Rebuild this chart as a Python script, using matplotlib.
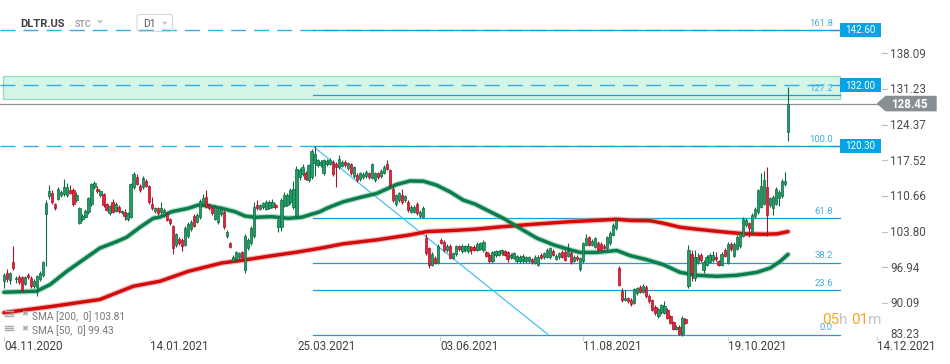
import matplotlib
matplotlib.use('Agg')
import matplotlib.pyplot as plt
import matplotlib.transforms as mtrans
from matplotlib.patches import Rectangle, Polygon, FancyBboxPatch
from matplotlib.lines import Line2D
import numpy as np

plt.rcParams['font.family'] = ['Roboto', 'DejaVu Sans']

# ---------------- data ----------------
opens = [
    94.4, 95.9, 94.5, 97.9, 94.6, 95.0, 95.0, 93.8, 95.4, 94.8,
    93.4, 93.2, 94.6, 95.4, 107.2, 110.6, 111.3, 109.1, 110.1, 110.8,
    111.0, 110.9, 111.8, 111.8, 109.9, 105.4, 106.2, 106.7, 107.5, 109.1,
    112.3, 112.1, 110.8, 111.0, 109.1, 107.4, 109.6, 107.8, 108.6, 107.5,
    107.5, 106.2, 106.7, 112.3, 114.4, 112.5, 112.3, 113.5, 112.5, 109.1,
    107.7, 108.3, 107.5, 107.0, 107.2, 106.2, 104.8, 101.2, 102.4, 102.2,
    101.3, 102.9, 104.3, 106.9, 105.7, 106.6, 109.2, 110.4, 109.0, 108.3,
    106.3, 105.6, 107.2, 107.6, 102.9, 101.6, 98.2, 98.5, 98.9, 99.8,
    96.4, 100.6, 101.6, 102.9, 108.9, 108.2, 108.5, 108.2, 108.4, 108.6,
    109.0, 104.6, 104.6, 108.8, 109.0, 109.5, 108.5, 106.8, 114.3, 114.9,
    115.1, 113.7, 114.3, 117.0, 116.6, 116.6, 115.0, 116.8, 116.9, 117.2,
    116.8, 116.2, 116.5, 117.2, 116.0, 116.8, 114.5, 114.7, 113.9, 114.3,
    114.5, 115.0, 114.2, 113.7, 115.0, 114.5, 115.1, 116.9, 115.6, 112.1,
    109.1, 109.9, 110.8, 109.8, 109.5, 107.6, 107.6, 109.2, 106.8, 106.7,
    102.5, 100.6, 97.4, 98.8, 97.8, 102.2, 101.9, 100.2, 101.1, 98.8,
    99.5, 101.0, 100.0, 100.2, 100.0, 100.8, 100.9, 100.3, 100.5, 100.2,
    99.8, 99.4, 98.1, 99.3, 99.4, 99.6, 100.0, 99.8, 98.9, 98.8,
    98.1, 98.1, 98.1, 98.1, 98.1, 98.5, 97.8, 97.4, 99.4, 98.9,
    99.0, 98.9, 100.1, 98.6, 98.9, 99.9, 99.9, 99.2, 99.7, 98.2,
    99.0, 96.6, 98.1, 101.3, 102.7, 101.3, 100.9, 101.7, 101.5, 101.1,
    100.6, 101.6, 103.2, 104.5, 96.8, 92.3, 90.7, 91.0, 90.7, 90.1,
    92.0, 93.1, 92.2, 93.2, 91.5, 90.6, 89.3, 87.5, 88.3, 88.2,
    88.8, 87.5, 86.4, 85.1, 85.5, 84.2, 86.9, 93.3, 99.5, 94.8,
    97.8, 99.3, 96.5, 97.4, 98.0, 98.3, 99.0, 98.1, 97.4, 100.3,
    97.8, 101.5, 99.2, 100.5, 101.0, 103.0, 105.0, 105.4, 103.7, 106.8,
    107.5, 108.6, 109.2, 112.4, 108.9, 108.3, 109.2, 110.3, 110.6, 112.9,
    123.0,
]
closes = [
    95.5, 94.6, 95.8, 96.8, 94.9, 94.1, 92.6, 95.0, 95.0, 93.4,
    94.4, 95.2, 95.9, 97.9, 109.4, 111.6, 109.5, 108.4, 112.0, 111.5,
    112.3, 112.3, 111.3, 109.1, 110.8, 108.3, 106.8, 107.7, 110.2, 112.9,
    113.1, 111.6, 111.6, 108.9, 108.0, 108.7, 107.6, 109.1, 107.7, 107.7,
    106.9, 107.3, 112.9, 114.8, 113.0, 111.8, 114.2, 112.6, 109.5, 108.3,
    108.3, 107.4, 108.3, 107.9, 106.1, 105.4, 100.6, 103.3, 101.6, 101.1,
    104.5, 105.3, 105.7, 104.9, 107.1, 109.7, 110.2, 108.6, 108.3, 107.4,
    108.6, 108.0, 108.2, 104.7, 103.8, 100.9, 99.0, 99.8, 99.6, 98.6,
    102.9, 102.2, 104.5, 108.6, 108.3, 108.9, 109.3, 109.6, 109.6, 109.5,
    108.5, 106.1, 109.8, 110.9, 110.8, 111.8, 112.0, 115.9, 115.7, 116.3,
    114.0, 116.6, 119.4, 118.8, 117.5, 117.3, 117.5, 117.4, 117.6, 114.9,
    116.2, 117.8, 117.3, 116.6, 117.0, 115.0, 116.2, 113.7, 115.0, 114.9,
    115.3, 114.3, 116.8, 115.0, 114.3, 115.5, 116.3, 115.9, 112.7, 109.9,
    110.8, 111.2, 109.5, 110.6, 107.9, 108.6, 108.6, 107.3, 107.6, 108.4,
    99.7, 97.4, 99.5, 97.8, 101.1, 101.7, 100.2, 101.1, 98.8, 99.6,
    101.0, 100.4, 101.1, 101.0, 101.1, 100.3, 100.3, 101.5, 101.6, 101.9,
    99.2, 98.1, 99.8, 100.0, 100.0, 100.2, 99.4, 98.5, 99.4, 99.6,
    99.1, 99.0, 99.2, 98.9, 98.9, 97.9, 99.0, 99.0, 98.8, 99.6,
    100.3, 100.6, 99.4, 99.2, 99.6, 99.0, 98.4, 100.1, 97.9, 99.0,
    98.5, 98.7, 101.6, 102.5, 101.3, 102.0, 102.5, 100.3, 100.3, 100.7,
    102.7, 103.6, 105.1, 106.1, 93.6, 90.7, 91.0, 90.4, 89.8, 92.7,
    92.9, 92.2, 93.4, 91.4, 90.4, 88.8, 88.1, 88.9, 89.6, 89.5,
    87.2, 86.3, 85.1, 85.5, 84.2, 87.2, 86.3, 100.3, 95.9, 99.0,
    99.0, 98.3, 98.0, 99.0, 99.4, 99.4, 98.5, 97.4, 99.5, 99.2,
    101.5, 100.4, 101.5, 102.8, 103.5, 106.3, 106.1, 104.5, 107.0, 108.2,
    111.8, 112.5, 113.7, 107.0, 110.2, 110.5, 112.0, 111.5, 113.6, 113.6,
    128.45,
]
highs = [
    95.8, 96.7, 96.0, 101.1, 95.2, 95.5, 95.3, 95.3, 95.9, 95.2,
    94.7, 95.5, 96.3, 98.2, 109.8, 112.7, 111.8, 109.4, 112.4, 111.9,
    114.0, 113.2, 112.7, 112.2, 111.5, 108.6, 107.2, 108.2, 110.5, 113.2,
    113.6, 112.5, 111.9, 111.3, 109.4, 109.0, 110.0, 109.5, 109.0, 108.0,
    108.2, 107.6, 113.2, 115.2, 114.9, 112.9, 114.6, 113.9, 112.8, 110.5,
    108.6, 108.6, 109.6, 108.3, 107.5, 106.5, 105.1, 103.6, 102.7, 102.5,
    104.8, 105.6, 106.0, 107.2, 107.4, 110.0, 111.0, 111.8, 109.3, 108.6,
    108.9, 108.3, 108.5, 107.9, 104.1, 101.9, 99.3, 100.1, 99.9, 100.1,
    103.3, 102.5, 104.8, 109.5, 109.9, 109.2, 109.6, 109.9, 109.9, 110.0,
    109.3, 106.5, 110.2, 111.5, 111.2, 112.2, 113.5, 116.5, 116.0, 116.8,
    115.5, 116.9, 119.8, 120.3, 117.8, 117.6, 117.8, 117.7, 117.9, 117.5,
    117.2, 118.5, 117.6, 117.5, 117.3, 117.1, 116.5, 115.0, 115.3, 115.2,
    115.6, 115.3, 117.1, 115.3, 115.3, 115.8, 116.6, 117.6, 115.9, 112.4,
    111.1, 111.5, 112.0, 110.9, 109.8, 108.9, 108.9, 109.5, 107.9, 108.7,
    103.4, 100.9, 99.8, 99.1, 101.4, 102.6, 102.2, 101.4, 101.4, 99.9,
    101.3, 101.3, 101.4, 101.3, 101.6, 101.1, 101.2, 101.8, 101.9, 102.2,
    100.1, 99.7, 100.1, 100.3, 100.3, 100.5, 100.3, 100.1, 99.7, 99.9,
    99.4, 99.3, 99.5, 99.2, 99.2, 98.8, 99.3, 99.3, 99.7, 99.9,
    100.6, 100.9, 100.4, 99.5, 99.9, 100.2, 100.2, 101.7, 100.0, 99.3,
    99.3, 99.0, 101.9, 103.3, 103.0, 102.3, 102.8, 102.0, 101.8, 101.4,
    103.0, 103.9, 105.4, 106.5, 97.2, 93.0, 92.5, 91.3, 91.0, 93.0,
    93.2, 93.5, 93.8, 93.5, 91.8, 90.9, 89.6, 89.2, 89.9, 90.5,
    89.1, 87.8, 86.7, 85.8, 85.8, 87.5, 87.2, 101.2, 100.2, 100.2,
    99.6, 99.6, 98.3, 99.3, 99.7, 100.0, 99.9, 98.4, 99.8, 100.6,
    101.8, 101.8, 101.8, 103.1, 103.8, 106.6, 106.4, 105.7, 107.3, 108.5,
    112.1, 115.0, 115.5, 116.2, 110.5, 110.8, 112.3, 111.8, 113.9, 115.2,
    131.7,
]
lows = [
    93.0, 94.2, 93.8, 96.5, 93.9, 93.8, 92.2, 93.5, 94.7, 93.0,
    93.0, 91.4, 94.3, 95.0, 97.2, 110.0, 109.2, 108.0, 109.8, 110.4,
    110.7, 110.5, 111.0, 108.8, 109.5, 105.2, 105.8, 106.4, 107.2, 108.8,
    112.0, 111.2, 110.5, 108.6, 107.7, 107.1, 107.3, 107.5, 107.4, 107.2,
    106.0, 105.8, 106.4, 112.0, 112.7, 111.5, 112.0, 112.3, 109.2, 108.0,
    107.4, 107.1, 107.2, 106.7, 105.8, 105.1, 99.55, 100.9, 101.3, 100.0,
    101.0, 102.6, 104.0, 104.6, 105.4, 106.3, 108.9, 108.3, 108.0, 107.1,
    106.0, 105.3, 106.9, 104.4, 102.6, 100.6, 97.9, 98.2, 98.6, 98.3,
    95.9, 100.3, 101.3, 102.6, 108.0, 107.9, 108.2, 107.9, 108.1, 108.3,
    108.2, 103.8, 104.0, 108.5, 108.7, 109.2, 108.2, 106.5, 113.8, 114.6,
    113.7, 113.4, 114.0, 114.5, 116.3, 116.3, 114.7, 116.5, 116.6, 114.6,
    112.4, 115.9, 116.2, 116.3, 115.7, 114.7, 114.2, 113.4, 113.6, 114.0,
    114.2, 114.0, 113.9, 113.4, 114.0, 114.2, 114.8, 115.6, 112.4, 109.6,
    108.8, 109.6, 109.2, 109.5, 107.6, 107.3, 107.3, 107.0, 106.5, 106.4,
    99.4, 96.8, 97.1, 97.5, 97.5, 101.4, 99.9, 99.9, 98.5, 98.5,
    99.2, 100.1, 99.7, 99.9, 99.7, 99.5, 100.0, 100.0, 100.2, 99.9,
    98.9, 97.8, 97.8, 99.0, 99.1, 99.3, 99.1, 98.0, 98.6, 98.5,
    97.8, 97.8, 97.8, 97.8, 97.8, 97.6, 97.5, 97.1, 98.5, 98.6,
    98.7, 98.6, 99.1, 98.3, 98.6, 98.7, 98.1, 98.9, 97.6, 97.9,
    98.2, 96.3, 97.8, 101.0, 101.0, 101.0, 100.6, 100.0, 100.0, 100.4,
    100.3, 101.3, 102.9, 104.2, 93.3, 90.3, 90.4, 90.1, 89.5, 89.8,
    91.7, 91.9, 91.9, 91.1, 90.1, 88.5, 87.8, 87.2, 88.0, 87.9,
    86.9, 86.0, 84.8, 84.8, 83.9, 83.8, 86.0, 93.0, 94.3, 94.3,
    97.5, 98.0, 95.8, 97.1, 97.7, 98.0, 98.2, 97.1, 97.1, 98.9,
    97.5, 100.1, 98.9, 100.2, 100.7, 102.7, 104.7, 102.7, 103.4, 106.5,
    107.2, 108.3, 108.9, 102.9, 108.6, 107.0, 108.9, 108.7, 110.3, 112.6,
    121.3,
]

sma50_idx = [0, 10.8, 15.3, 20.8, 26.3, 31.8, 37.4, 40.7, 45.1, 49.5,
             51.7, 55.6, 61.1, 64.4, 67.8, 72.2, 76.6, 79.9, 83.3, 88.8,
             94.3, 98.7, 104.8, 107.0, 112.5, 118.1, 123.6, 130.2, 134.7, 139.1,
             143.5, 147.9, 152.3, 156.2, 160.1, 165.6, 171.1, 176.7, 182.2, 187.7,
             191.0, 196.6, 203.2, 207.6, 213.2, 218.7, 224.2, 229.8, 236.4, 243.0,
             249.7, 254.1, 257.4, 260.0]
sma50_val = [92.15, 92.34, 93.62, 96.16, 98.40, 100.64, 101.90, 102.74, 104.65, 106.37,
             106.6, 107.64, 108.29, 108.92, 108.78, 108.29, 107.64, 106.81, 106.57, 106.68,
             106.37, 106.57, 107.64, 108.29, 109.55, 110.39, 111.15, 112.87, 113.56, 113.51,
             112.74, 111.46, 109.87, 109.11, 107.96, 106.37, 104.46, 102.55, 101.27, 100.31,
             99.80, 99.80, 100.18, 99.2, 98.40, 97.44, 95.97, 95.40, 95.21, 95.40,
             95.97, 96.81, 98.07, 99.43]
sma200_idx = [0, 15.3, 31.8, 42.9, 51.7, 61.1, 72.2, 78.8, 88.8, 96.5,
              104.8, 112.5, 123.6, 134.7, 140.2, 147.9, 156.2, 165.6, 176.7, 187.7,
              198.8, 203.2, 208.0, 214.3, 218.7, 224.2, 229.8, 235.3, 240.8, 246.3,
              251.9, 256.3, 260.0]
sma200_val = [88.21, 89.36, 90.75, 93.30, 94.25, 96.16, 97.77, 98.27, 99.16, 99.80,
              100.6, 101.46, 102.22, 103.18, 103.81, 104.00, 104.27, 104.77, 105.28, 105.72,
              106.05, 106.18, 105.95, 105.91, 105.42, 104.65, 104.27, 103.94, 103.62, 103.37,
              103.31, 103.37, 103.81]

date_labels = ['04.11.2020', '14.01.2021', '25.03.2021', '03.06.2021',
               '11.08.2021', '19.10.2021', '14.12.2021']
date_idx = [0, 48.4, 97.2, 144.6, 192.0, 240.1, 289.5]

price_ticks = [138.09, 131.23, 124.37, 117.52, 110.66, 103.80, 96.94, 90.09, 83.23]

fib_ratios = [0.0, 23.6, 38.2, 61.8, 100.0, 127.2, 161.8]
fib_low, fib_high = 84.0, 120.22
fib_start_idx, fib_end_idx = 102.5, 180.4

level_lines = [142.60, 132.00, 120.30]
zone_low, zone_high = 129.4, 133.75
last_price = 128.45
sma200_last, sma50_last = 103.81, 99.43

# ---------------- figure ----------------
W, H = 950, 364
fig = plt.figure(figsize=(W / 100, H / 100), dpi=100)
fig.patch.set_facecolor('white')
AX_H = 340
AX_W = 880
ax = fig.add_axes([0, 1 - AX_H / H, AX_W / W, AX_H / H])
Y_TOP, Y_BOT = 148.38, 82.95
PX_PER_IDX = 3.0154
X0 = 4
X_LEFT = -X0 / PX_PER_IDX
X_RIGHT = (AX_W - X0) / PX_PER_IDX
ax.set_xlim(X_LEFT, X_RIGHT)
ax.set_ylim(Y_BOT, Y_TOP)
ax.set_axis_off()

px = mtrans.Affine2D().scale(1 / W, -1 / H).translate(0, 1) + fig.transFigure


def ypx(v):
    return (Y_TOP - v) / (Y_TOP - Y_BOT) * AX_H


def idx_at(p):
    return X_LEFT + p / PX_PER_IDX


X_END = idx_at(840)

# zone
ax.add_patch(Rectangle((idx_at(3), zone_low), X_END - idx_at(3), zone_high - zone_low,
                       facecolor='#d5f5e7', edgecolor='#8fdcbd', lw=0.9, zorder=1))

# dashed horizontal levels
for v in level_lines:
    ax.plot([X_LEFT, X_END], [v, v], color='#35ade9', lw=1.0, dashes=(10.8, 5.8), zorder=2)

# fibonacci
fib_levels = [fib_low + r / 100.0 * (fib_high - fib_low) for r in fib_ratios]
for lv in fib_levels:
    ax.plot([fib_start_idx, X_END], [lv, lv], color='#1c9ddd', lw=0.9, zorder=2)
ax.plot([fib_start_idx, fib_end_idx], [fib_high, fib_low], color='#4cbff4', lw=0.9, zorder=2)

# last price line
ax.plot([X_LEFT, X_RIGHT], [last_price, last_price], color='#8b9397', lw=0.9, zorder=2)

# SMAs
ax.plot(sma200_idx, sma200_val, color='#ee8a8a', lw=4.2, alpha=0.55, zorder=3,
        solid_capstyle='round', solid_joinstyle='round')
ax.plot(sma200_idx, sma200_val, color='#d20c0c', lw=2.5, zorder=3.1,
        solid_capstyle='round', solid_joinstyle='round')
ax.plot(sma50_idx, sma50_val, color='#79c2a0', lw=4.2, alpha=0.55, zorder=3,
        solid_capstyle='round', solid_joinstyle='round')
ax.plot(sma50_idx, sma50_val, color='#0b7d4d', lw=2.5, zorder=3.1,
        solid_capstyle='round', solid_joinstyle='round')

# candles
o = np.array(opens)
c = np.array(closes)
h = np.array(highs)
l = np.array(lows)
n = min(len(o), len(c), len(h), len(l))
o, c, h, l = o[:n], c[:n], h[:n], l[:n]
idx = np.arange(n)
up = c >= o
face = np.where(up, '#239c66', '#e2243b')
edge = np.where(up, '#0c6a42', '#a8122a')
ax.vlines(idx, l, h, colors=edge, lw=0.8, zorder=4)
body_h = np.maximum(np.abs(c - o), 0.18)
ax.bar(idx, body_h, bottom=np.minimum(o, c), width=0.78, color=face,
       edgecolor=edge, lw=0.5, zorder=5)

# ---------------- overlays in pixel coordinates ----------------
# price boxes
for v in level_lines:
    yc = ypx(v)
    fig.add_artist(Rectangle((839.5, yc - 7.3), 41, 14.6, transform=px,
                             facecolor='#08a3e6', edgecolor='none', zorder=10))
    fig.text(860, yc + 3.4, f'{v:.2f}', transform=px, ha='center', va='baseline',
             color='white', fontsize=7, zorder=11)

# last price arrow
yc = ypx(last_price)
fig.add_artist(Polygon([(876.7, yc), (885.5, yc - 7.8), (936.7, yc - 7.8),
                        (936.7, yc + 7.8), (885.5, yc + 7.8)], closed=True,
                       transform=px, facecolor='#878f93', edgecolor='none', zorder=10))
fig.text(909, yc + 4.2, f'{last_price:.2f}', transform=px, ha='center', va='baseline',
         color='white', fontsize=8.4, fontweight='bold', zorder=11)

# right axis labels
for v in price_ticks:
    y = ypx(v)
    base = y + 4.2
    if base > 338.5:
        base = 338.5
    else:
        fig.add_artist(Line2D([881.5, 887], [y, y], transform=px, color='#bdbdbd', lw=0.8))
    fig.text(890, base, f'{v:.2f}', transform=px, ha='left', va='baseline',
             color='#4d4d4d', fontsize=8.4)

# date labels
for lbl, i in zip(date_labels, date_idx):
    x = X0 + i * PX_PER_IDX
    fig.add_artist(Line2D([x, x], [336.5, 340], transform=px, color='#d4d4d4', lw=0.8))
    fig.text(x, 350, lbl, transform=px, ha='left', va='baseline', color='#404040',
             fontsize=8.4)

# fib labels
for r, lv in zip(fib_ratios, fib_levels):
    fig.text(833, ypx(lv) - 4.5, f'{r:.1f}', transform=px, ha='right', va='baseline',
             color='#42aee8', fontsize=6.8, zorder=6)

# countdown
parts = [('05', '#f5a623', 822.5), ('h', '#c4c4c4', 839.5), ('01', '#f5a623', 851.5),
         ('m', '#c4c4c4', 868)]
for s, col, x in parts:
    fig.text(x, 324, s, transform=px, ha='left', va='baseline', color=col,
             fontsize=11, zorder=12)

# legend (bottom-left)
legend_rows = [(f'SMA [200,  0] {sma200_last:.2f}', 320, 313.5),
               (f'SMA [50,  0] {sma50_last:.2f}', 334.5, 328)]
for txt, base, icy in legend_rows:
    for dy in (-2.2, 0, 2.2):
        fig.add_artist(Line2D([5, 12.5], [icy + dy, icy + dy], transform=px,
                              color='#a9a9a9', lw=1.0))
    fig.text(21, icy + 3, '\u2716', transform=px, ha='left', va='baseline',
             color='#a9a9a9', fontsize=6, family=['DejaVu Sans'])
    fig.text(32, base, txt, transform=px, ha='left', va='baseline', color='#777777',
             fontsize=7.3)

# top-left header
fig.text(20.7, 26.7, 'DLTR.US', transform=px, ha='left', va='baseline',
         color='#3a3f44', fontsize=8, fontweight='bold')
fig.text(75, 26.7, 'STC', transform=px, ha='left', va='baseline',
         color='#9aa0a6', fontsize=6.3, fontweight='bold')
fig.add_artist(Polygon([(96.7, 20.3), (103.5, 20.3), (100.1, 23.8)], closed=True,
                       transform=px, facecolor='#c8c8c8', edgecolor='none'))
fig.add_artist(FancyBboxPatch((137, 14.5), 35.5, 17, boxstyle='round,pad=0,rounding_size=2.5',
                              transform=px, facecolor='none', edgecolor='#d9d9d9', lw=0.8))
fig.text(143.3, 26.7, 'D1', transform=px, ha='left', va='baseline',
         color='#555555', fontsize=7.5)
fig.add_artist(Polygon([(161.7, 21.7), (167.5, 21.7), (164.6, 25.0)], closed=True,
                       transform=px, facecolor='#c8c8c8', edgecolor='none'))

fig.savefig('out.png', dpi=100, facecolor='white')
